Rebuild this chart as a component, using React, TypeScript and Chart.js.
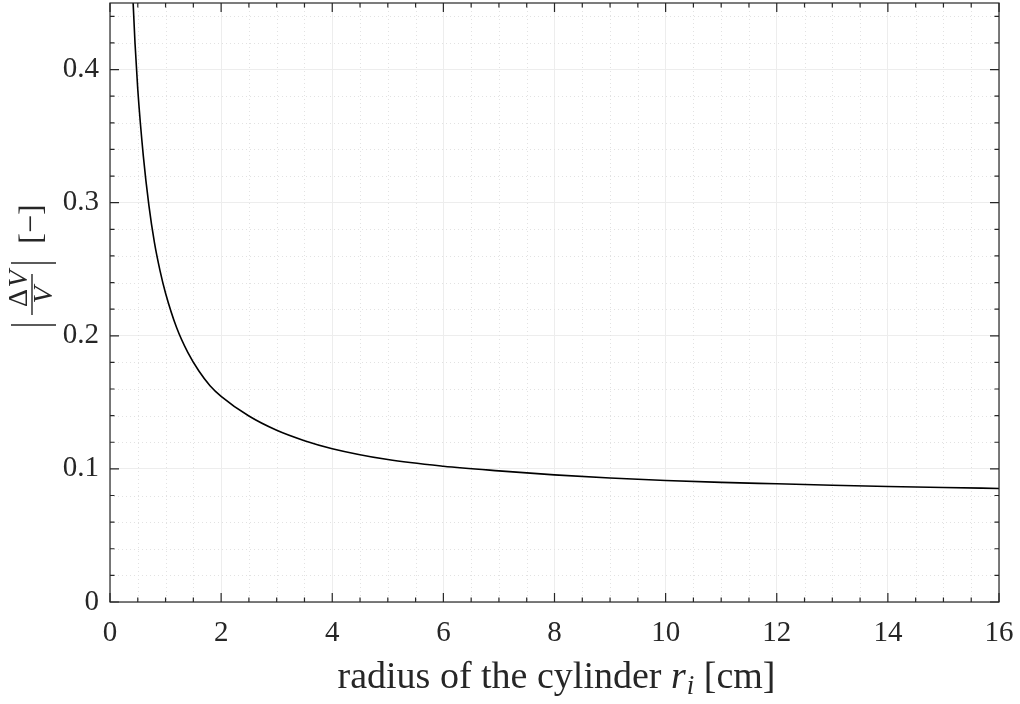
import React, { useEffect, useRef } from "react";
import { Chart, registerables } from "chart.js";

Chart.register(...registerables);

// radius of the cylinder r_i [cm]
const radius: number[] = [0.4, 0.45, 0.5, 0.6, 0.7, 0.8, 0.9, 1.0, 1.2, 1.4, 1.6, 1.8, 2.0, 2.5, 3.0, 3.5, 4, 5, 6, 7, 8, 9, 10, 11, 12, 13, 14, 15, 16];
// |ΔV/V| [-]
const relChange: number[] = [0.465, 0.42, 0.385, 0.335, 0.298, 0.27, 0.249, 0.232, 0.206, 0.1875, 0.1735, 0.1625, 0.1545, 0.1397, 0.129, 0.1212, 0.1152, 0.107, 0.102, 0.0985, 0.0955, 0.0932, 0.0913, 0.0899, 0.0888, 0.0877, 0.0868, 0.086, 0.0853];

const xMajorTicks: number[] = [0, 2, 4, 6, 8, 10, 12, 14, 16];
const yMajorTicks: number[] = [0, 0.1, 0.2, 0.3, 0.4];
const xMinorStep = 0.5;
const yMinorStep = 0.02;
const X_MIN = 0, X_MAX = 16, Y_MIN = 0, Y_MAX = 0.45;

const SERIF = '"Liberation Serif", "Times New Roman", serif';
const AX = "#262626";

function minorValues(min: number, max: number, step: number, majors: number[]) {
  const out: number[] = [];
  const n = Math.round((max - min) / step);
  for (let i = 0; i <= n; i++) {
    const v = +(min + i * step).toFixed(6);
    if (v > max + 1e-9) break;
    if (majors.some((m) => Math.abs(m - v) < 1e-9)) continue;
    out.push(v);
  }
  return out;
}

function rotText(ctx: CanvasRenderingContext2D, text: string, cx: number, cy: number, font: string) {
  ctx.save();
  ctx.translate(cx, cy);
  ctx.rotate(-Math.PI / 2);
  ctx.font = font;
  ctx.textAlign = "center";
  ctx.textBaseline = "middle";
  ctx.fillText(text, 0, 0);
  ctx.restore();
}

const matlabPlugin = {
  id: "matlabAxes",
  beforeDatasetsDraw(chart: any) {
    const { ctx, chartArea: a, scales } = chart;
    const xs = scales.x, ys = scales.y;
    ctx.save();
    ctx.strokeStyle = "#e2e2e2";
    ctx.lineWidth = 1;
    ctx.setLineDash([1, 3]);
    for (const v of minorValues(X_MIN, X_MAX, xMinorStep, xMajorTicks)) {
      const px = Math.round(xs.getPixelForValue(v)) + 0.5;
      ctx.beginPath();
      ctx.moveTo(px, a.top);
      ctx.lineTo(px, a.bottom);
      ctx.stroke();
    }
    for (const v of minorValues(Y_MIN, Y_MAX, yMinorStep, yMajorTicks)) {
      const py = Math.round(ys.getPixelForValue(v)) + 0.5;
      ctx.beginPath();
      ctx.moveTo(a.left, py);
      ctx.lineTo(a.right, py);
      ctx.stroke();
    }
    ctx.restore();
  },
  afterDatasetsDraw(chart: any) {
    const { ctx, chartArea: a, scales } = chart;
    const xs = scales.x, ys = scales.y;
    ctx.save();
    ctx.strokeStyle = AX;
    ctx.lineWidth = 1.2;
    ctx.setLineDash([]);
    const L = a.left, R = a.right, T = a.top, B = a.bottom;
    const major = 9, minor = 4.5;
    ctx.beginPath();
    for (const v of xMajorTicks) {
      const px = xs.getPixelForValue(v);
      ctx.moveTo(px, B); ctx.lineTo(px, B - major);
      ctx.moveTo(px, T); ctx.lineTo(px, T + major);
    }
    for (const v of minorValues(X_MIN, X_MAX, xMinorStep, xMajorTicks)) {
      const px = xs.getPixelForValue(v);
      ctx.moveTo(px, B); ctx.lineTo(px, B - minor);
      ctx.moveTo(px, T); ctx.lineTo(px, T + minor);
    }
    for (const v of yMajorTicks) {
      const py = ys.getPixelForValue(v);
      ctx.moveTo(L, py); ctx.lineTo(L + major, py);
      ctx.moveTo(R, py); ctx.lineTo(R - major, py);
    }
    for (const v of minorValues(Y_MIN, Y_MAX, yMinorStep, yMajorTicks)) {
      const py = ys.getPixelForValue(v);
      ctx.moveTo(L, py); ctx.lineTo(L + minor, py);
      ctx.moveTo(R, py); ctx.lineTo(R - minor, py);
    }
    ctx.stroke();
    ctx.strokeRect(L, T, R - L, B - T);

    // x-axis label
    ctx.fillStyle = AX;
    ctx.textBaseline = "alphabetic";
    ctx.textAlign = "left";
    const fs = 38;
    const fN = `${fs}px ${SERIF}`;
    const fI = `italic ${fs}px ${SERIF}`;
    const fS = `italic ${Math.round(fs * 0.7)}px ${SERIF}`;
    const p1 = "radius of the cylinder ", p2 = "r", p3 = "i", p4 = " [cm]";
    ctx.font = fN; const w1 = ctx.measureText(p1).width; const w4 = ctx.measureText(p4).width;
    ctx.font = fI; const w2 = ctx.measureText(p2).width;
    ctx.font = fS; const w3 = ctx.measureText(p3).width;
    const total = w1 + w2 + w3 + w4;
    let x = 556 - total / 2;
    const base = 688;
    ctx.font = fN; ctx.fillText(p1, x, base); x += w1;
    ctx.font = fI; ctx.fillText(p2, x, base); x += w2 + 1;
    ctx.font = fS; ctx.fillText(p3, x, base + 6); x += w3;
    ctx.font = fN; ctx.fillText(p4, x, base);

    // y-axis label |ΔV/V| [−]
    ctx.lineWidth = 1.4;
    ctx.beginPath();
    ctx.moveTo(11, 325); ctx.lineTo(56, 325);
    ctx.moveTo(11, 263); ctx.lineTo(56, 263);
    ctx.moveTo(32, 274); ctx.lineTo(32, 315);
    ctx.stroke();
    rotText(ctx, "Δ", 20, 298, `28px ${SERIF}`);
    rotText(ctx, "V", 20, 279, `italic 28px ${SERIF}`);
    rotText(ctx, "V", 45, 295, `italic 28px ${SERIF}`);
    rotText(ctx, "[−]", 33, 224, `32px ${SERIF}`);
    ctx.restore();
  },
};

export default function App() {
  const ref = useRef<HTMLCanvasElement | null>(null);
  useEffect(() => {
    if (!ref.current) return;
    const chart = new Chart(ref.current, {
      type: "line",
      data: {
        datasets: [
          {
            data: radius.map((r, i) => ({ x: r, y: relChange[i] })),
            borderColor: "#000000",
            borderWidth: 1.6,
            pointRadius: 0,
            cubicInterpolationMode: "monotone",
            fill: false,
          },
        ],
      },
      options: {
        animation: false,
        responsive: false,
        devicePixelRatio: 1,
        layout: { padding: { top: 3, right: 21, left: 0, bottom: 0 } },
        plugins: { legend: { display: false }, tooltip: { enabled: false } },
        scales: {
          x: {
            type: "linear",
            min: X_MIN,
            max: X_MAX,
            afterBuildTicks: (s: any) => { s.ticks = xMajorTicks.map((v) => ({ value: v })); },
            afterFit: (s: any) => { s.height = 102; s.paddingLeft = 0; s.paddingRight = 0; s.paddingTop = 0; s.paddingBottom = 0; },
            border: { display: false },
            grid: { color: "#ededed", lineWidth: 1, drawTicks: false },
            ticks: {
              color: AX,
              font: { family: SERIF, size: 29 },
              padding: 14,
              maxRotation: 0,
              callback: (v: any) => String(v),
            },
          },
          y: {
            type: "linear",
            min: Y_MIN,
            max: Y_MAX,
            afterBuildTicks: (s: any) => { s.ticks = yMajorTicks.map((v) => ({ value: v })); },
            afterFit: (s: any) => { s.width = 110; s.paddingLeft = 0; s.paddingRight = 0; s.paddingTop = 0; s.paddingBottom = 0; },
            border: { display: false },
            grid: { color: "#ededed", lineWidth: 1, drawTicks: false },
            ticks: {
              color: AX,
              font: { family: SERIF, size: 29 },
              padding: 11,
              callback: (v: any) => String(+Number(v).toFixed(2)),
            },
          },
        },
      },
      plugins: [matlabPlugin],
    } as any);
    return () => chart.destroy();
  }, []);
  return (
    <div style={{ position: "fixed", left: 0, top: 0, width: 1020, height: 704, background: "#fff" }}>
      <canvas ref={ref} width={1020} height={704} style={{ width: 1020, height: 704, display: "block" }} />
    </div>
  );
}
